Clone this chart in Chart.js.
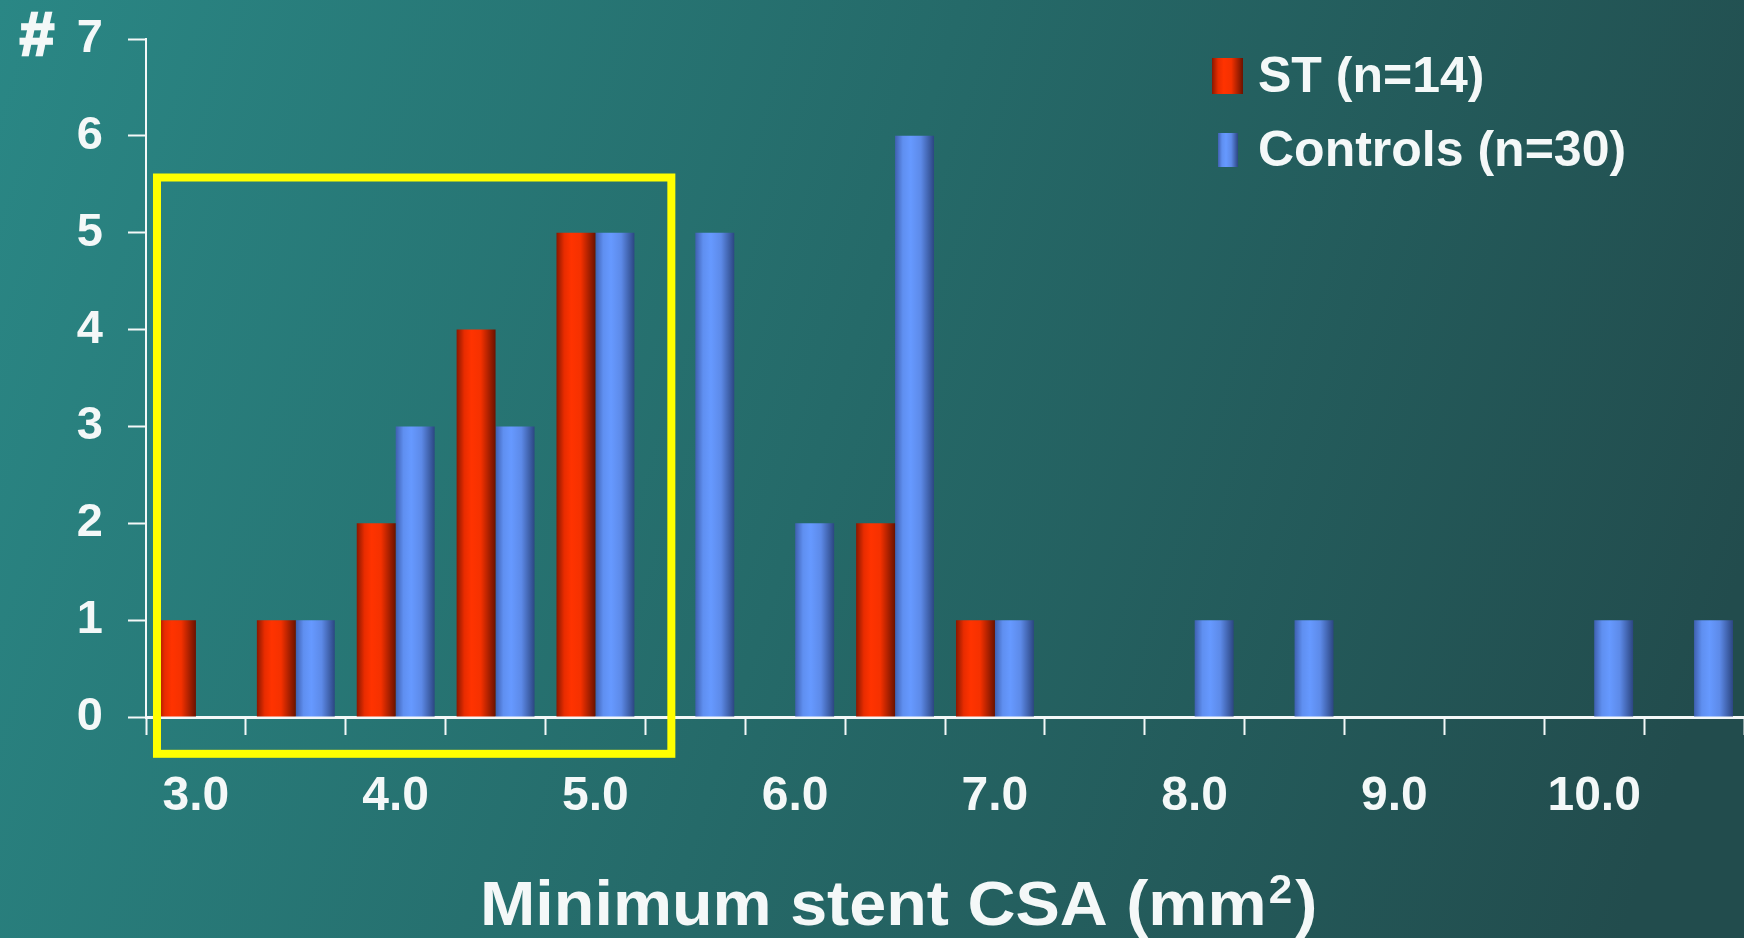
<!DOCTYPE html>
<html>
<head>
<meta charset="utf-8">
<title>Minimum stent CSA</title>
<script src="https://cdn.jsdelivr.net/npm/chart.js@4.4.1/dist/chart.umd.min.js"></script>
<style>
    html, body { margin: 0; padding: 0; background: #246868; overflow: hidden; }
    canvas { display: block; }
</style>
</head>
<body>
<canvas id="cstaChart" width="1744" height="938"></canvas>
<script>
// Chart data
const categories = ['3.0', '3.5', '4.0', '4.5', '5.0', '5.5', '6.0', '6.5', '7.0', '7.5', '8.0', '8.5', '9.0', '9.5', '10.0', '10.5'];
const stValues = [1, 1, 2, 4, 5, 0, 0, 2, 1, 0, 0, 0, 0, 0, 0, 0];
const controlValues = [0, 1, 3, 3, 5, 5, 2, 6, 1, 0, 1, 1, 0, 0, 1, 1];
const yTicks = [0, 1, 2, 3, 4, 5, 6, 7];
const stLabel = 'ST (n=14)';
const controlLabel = 'Controls (n=30)';
const xTitleMain = 'Minimum stent CSA (mm';
const xTitleSup = '2';
const xTitleEnd = ')';

const FONT = '"Liberation Sans", Arial, sans-serif';
const WHITE = '#f4f8f8';

// Cylinder-like shading stops for each series
const barShades = {
    st: [[0, '#8a1800'], [0.2, '#e82c00'], [0.38, '#ff3300'], [0.62, '#f53100'], [1, '#6a1200']],
    ctrl: [[0, '#3f60b0'], [0.2, '#5f8ff0'], [0.4, '#6699ff'], [0.66, '#5d8ae8'], [1, '#2c4682']]
};

function shadeGradient(ctx, left, right, stops) {
    const g = ctx.createLinearGradient(left, 0, right, 0);
    stops.forEach(s => g.addColorStop(s[0], s[1]));
    return g;
}

// Background, bar shading, annotation box, legend and title
const slidePlugin = {
    id: 'slide',
    beforeDraw(chart) {
        const ctx = chart.ctx;
        const g = ctx.createLinearGradient(0, 0, chart.width, chart.height * 0.6);
        g.addColorStop(0, '#2a8785');
        g.addColorStop(0.5, '#256a69');
        g.addColorStop(1, '#224c4d');
        ctx.save();
        ctx.fillStyle = g;
        ctx.fillRect(0, 0, chart.width, chart.height);
        ctx.restore();
    },
    beforeDatasetsDraw(chart) {
        const ctx = chart.ctx;
        chart.data.datasets.forEach((ds, i) => {
            const meta = chart.getDatasetMeta(i);
            meta.data.forEach(bar => {
                const half = bar.width / 2;
                const grad = shadeGradient(ctx, bar.x - half, bar.x + half, barShades[ds.shade]);
                // options are shared between bars, so give each bar its own copy
                bar.options = Object.assign({}, bar.options, { backgroundColor: grad });
            });
        });
    },
    afterDraw(chart) {
        const ctx = chart.ctx;
        const x = chart.scales.x;
        const y = chart.scales.y;
        ctx.save();

        // Yellow highlight box around the low CSA range
        const bx1 = x.getPixelForValue(-0.39);
        const bx2 = x.getPixelForValue(4.76);
        const by1 = y.getPixelForValue(5.57);
        const by2 = y.getPixelForValue(-0.38);
        ctx.strokeStyle = '#ffff00';
        ctx.lineWidth = 8;
        ctx.strokeRect(bx1, by1, bx2 - bx1, by2 - by1);

        // "#" axis marker
        ctx.fillStyle = WHITE;
        ctx.strokeStyle = WHITE;
        ctx.lineWidth = 2.5;
        ctx.font = 'bold 62px ' + FONT;
        ctx.textAlign = 'center';
        ctx.textBaseline = 'middle';
        ctx.fillText('#', 37, 38);
        ctx.strokeText('#', 37, 38);

        // Legend
        ctx.textAlign = 'left';
        ctx.font = 'bold 50px ' + FONT;
        ctx.fillStyle = shadeGradient(ctx, 1212, 1243, barShades.st);
        ctx.fillRect(1212, 58, 31, 36);
        ctx.fillStyle = shadeGradient(ctx, 1218, 1238, barShades.ctrl);
        ctx.fillRect(1218, 133, 20, 34);
        ctx.fillStyle = WHITE;
        ctx.fillText(chart.data.datasets[0].label, 1258, 78);
        ctx.fillText(chart.data.datasets[1].label, 1258, 152);

        // Axis title with a raised "2", stretched a little like the slide font
        ctx.translate(480, 925);
        ctx.scale(1.055, 1);
        ctx.textBaseline = 'alphabetic';
        ctx.font = 'bold 63px ' + FONT;
        ctx.fillText(xTitleMain, 0, 0);
        let tx = ctx.measureText(xTitleMain).width + 2;
        ctx.font = 'bold 40px ' + FONT;
        ctx.fillText(xTitleSup, tx, -22);
        tx += ctx.measureText(xTitleSup).width + 3;
        ctx.font = 'bold 63px ' + FONT;
        ctx.fillText(xTitleEnd, tx, 0);
        ctx.restore();
    }
};

// Create grouped bar chart
const chart = new Chart(document.getElementById('cstaChart'), {
    type: 'bar',
    data: {
        labels: categories,
        datasets: [{
            label: stLabel,
            data: stValues,
            shade: 'st',
            backgroundColor: '#ff3300',
            borderWidth: 0
        }, {
            label: controlLabel,
            data: controlValues,
            shade: 'ctrl',
            backgroundColor: '#6699ff',
            borderWidth: 0
        }]
    },
    options: {
        responsive: false,
        animation: false,
        layout: {
            padding: { top: 39, right: 0, left: 0, bottom: 0 }
        },
        datasets: {
            bar: {
                categoryPercentage: 0.78,
                barPercentage: 1.0
            }
        },
        plugins: {
            legend: { display: false },
            tooltip: { enabled: false }
        },
        scales: {
            x: {
                offset: true,
                afterFit: scale => {
                    scale.height = 221;
                    scale.paddingLeft = 0;
                    scale.paddingRight = 0;
                },
                grid: {
                    offset: true,
                    drawOnChartArea: false,
                    drawTicks: true,
                    tickLength: 18,
                    tickWidth: 2,
                    tickColor: WHITE
                },
                border: { color: WHITE, width: 3 },
                ticks: {
                    autoSkip: false,
                    maxRotation: 0,
                    padding: 33,
                    color: WHITE,
                    font: { family: FONT, size: 48, weight: 'bold' },
                    callback: (value, index) => index % 2 === 0 ? categories[index] : ''
                }
            },
            y: {
                min: yTicks[0],
                max: yTicks[yTicks.length - 1],
                afterFit: scale => {
                    scale.width = 146;
                    scale.paddingTop = 0;
                    scale.paddingBottom = 0;
                },
                afterBuildTicks: scale => { scale.ticks = yTicks.map(v => ({ value: v })); },
                grid: {
                    drawOnChartArea: false,
                    tickLength: 18,
                    tickWidth: 2,
                    tickColor: WHITE
                },
                border: { color: WHITE, width: 2 },
                ticks: {
                    padding: 25,
                    color: WHITE,
                    font: { family: FONT, size: 47, weight: 'bold' }
                }
            }
        }
    },
    plugins: [slidePlugin]
});
</script>
</body>
</html>
